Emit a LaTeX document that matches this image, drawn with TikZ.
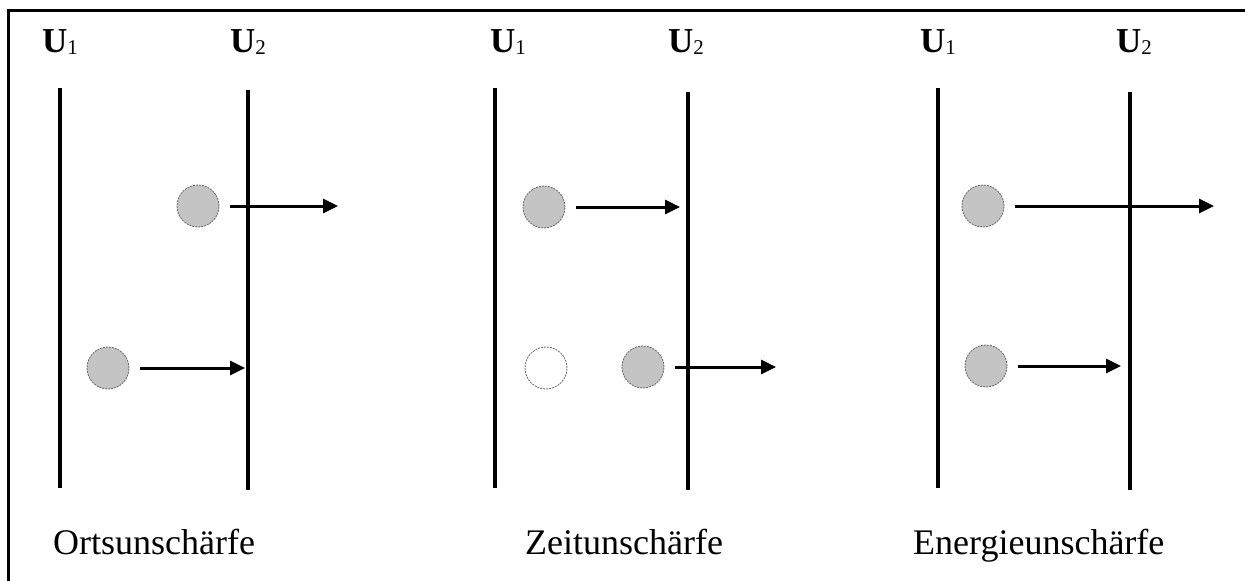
\documentclass[tikz,border=0pt]{standalone}
\usepackage{fontspec}
\setmainfont{Liberation Serif}
\usetikzlibrary{arrows.meta}
\newcommand{\plateidx}[1]{\raisebox{-2pt}{\fontsize{21}{21}\selectfont\mdseries #1}}
\begin{document}
\begin{tikzpicture}[x=1pt,y=-1pt]
\tikzstyle{ball}=[draw=black!60,line width=0.8pt,dash pattern=on 2pt off 1pt,shape=circle,fill=black!23,minimum size=42pt,inner sep=0pt]
\tikzstyle{hole}=[ball,fill=white]
\tikzstyle{plate}=[line width=3.6pt]
\tikzstyle{shot}=[line width=3pt,-{Triangle[length=15pt,width=14pt]},shorten <=11pt]
\tikzstyle{ulabel}=[anchor=base west,inner sep=0pt,font=\fontsize{35}{40}\selectfont\bfseries]
\tikzstyle{title}=[anchor=base west,inner sep=0pt,font=\fontsize{36}{40}\selectfont]
\useasboundingbox (0,0) rectangle (1245,581);
% frame
\draw[line width=3pt] (8,581) -- (8,10) -- (1245,10);
% Ortsunschaerfe
\node[ulabel] at (42,52) (ua1) {U\plateidx{1}};
\node[ulabel] at (230,52) (ub1) {U\plateidx{2}};
\draw[plate] (60,88) -- (60,488);
\draw[plate] (248,90) -- (248,490);
\node[ball] at (198,206) (pa) {};
\node[ball] at (108,368) (pb) {};
\coordinate (ea) at (338,206);
\coordinate (eb) at (245,368);
\draw[shot] (pa) -- (ea);
\draw[shot] (pb) -- (eb);
\node[title] at (53,554) (ort) {Ortsunschärfe};
% Zeitunschaerfe
\node[ulabel] at (490,52) (ua2) {U\plateidx{1}};
\node[ulabel] at (668,52) (ub2) {U\plateidx{2}};
\draw[plate] (495,88) -- (495,488);
\draw[plate] (688,92) -- (688,490);
\node[ball] at (544,207) (za) {};
\node[hole] at (546,368) (zo) {};
\node[ball] at (643,367) (zb) {};
\coordinate (fa) at (680,207);
\coordinate (fb) at (776,367);
\draw[shot] (za) -- (fa);
\draw[shot] (zb) -- (fb);
\node[title] at (525,554) (zeit) {Zeitunschärfe};
% Energieunschaerfe
\node[ulabel] at (920,52) (ua3) {U\plateidx{1}};
\node[ulabel] at (1116,52) (ub3) {U\plateidx{2}};
\draw[plate] (938,88) -- (938,488);
\draw[plate] (1130,92) -- (1130,490);
\node[ball] at (983,206) (ga) {};
\node[ball] at (986,366) (gb) {};
\coordinate (ha) at (1214,206);
\coordinate (hb) at (1121,366);
\draw[shot] (ga) -- (ha);
\draw[shot] (gb) -- (hb);
\node[title] at (913,554) (energie) {Energieunschärfe};
\end{tikzpicture}
\end{document}
